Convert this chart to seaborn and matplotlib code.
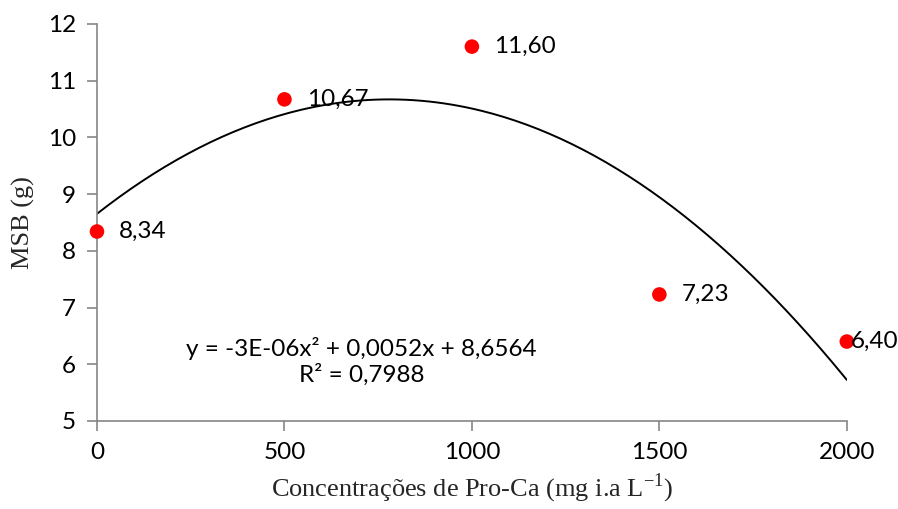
import numpy as np
import pandas as pd
import matplotlib
matplotlib.use("Agg")
import matplotlib.pyplot as plt
import seaborn as sns

conc = [0, 500, 1000, 1500, 2000]
msb = [8.34, 10.67, 11.60, 7.23, 6.40]
labels = ["8,34", "10,67", "11,60", "7,23", "6,40"]
eq_text = "y = -3E-06x² + 0,0052x + 8,6564\nR² = 0,7988"

sns.set_theme(style="white")
plt.rcParams['font.family'] = ['Lato', 'DejaVu Sans']
plt.rcParams['mathtext.fontset'] = 'custom'
plt.rcParams['mathtext.rm'] = 'Liberation Serif'

fig = plt.figure(figsize=(8.98, 5.09), dpi=100)
ax = fig.add_axes([0.108, 0.173, 0.835, 0.780])

df = pd.DataFrame({"conc": conc, "msb": msb})

# quadratic trend line
coef = np.polyfit(conc, msb, 2)
xs = np.linspace(0, 2000, 200)
trend = pd.DataFrame({"x": xs, "y": np.polyval(coef, xs)})
sns.lineplot(data=trend, x="x", y="y", color="black", linewidth=1.4, ax=ax)

sns.scatterplot(data=df, x="conc", y="msb", color="#ff0000", s=110,
                edgecolor="none", ax=ax, zorder=5, clip_on=False)

for i, (x, y, t) in enumerate(zip(conc, msb, labels)):
    dx = 2.5 if i == len(conc) - 1 else 16
    ax.annotate(t, (x, y), xytext=(dx, 0), textcoords="offset points",
                va="center", ha="left", fontsize=17.5, color="black", zorder=6)

ax.text(0.353, 0.149, eq_text, transform=ax.transAxes, ha="center", va="center",
        fontsize=17.5, linespacing=1.2, color="black")

ax.set_xlim(0, 2000)
ax.set_ylim(5, 12)
ax.set_xticks([0, 500, 1000, 1500, 2000])
ax.set_yticks(range(5, 13))
for s in ["top", "right"]:
    ax.spines[s].set_visible(False)
for s in ["left", "bottom"]:
    ax.spines[s].set_color("#868686")
    ax.spines[s].set_linewidth(1.2)
ax.tick_params(axis="both", which="major", direction="out", length=7,
               width=1.2, color="#868686", labelsize=17.5, labelcolor="black",
               bottom=True, left=True, pad=8)

ax.set_xlabel("Concentrações de Pro-Ca (mg i.a L$^{\\mathrm{-1}}$)", family="Liberation Serif",
              fontsize=19, labelpad=6)
ax.set_ylabel("MSB (g)", family="Liberation Serif", fontsize=19, labelpad=9)

fig.savefig("out.png", dpi=100)
